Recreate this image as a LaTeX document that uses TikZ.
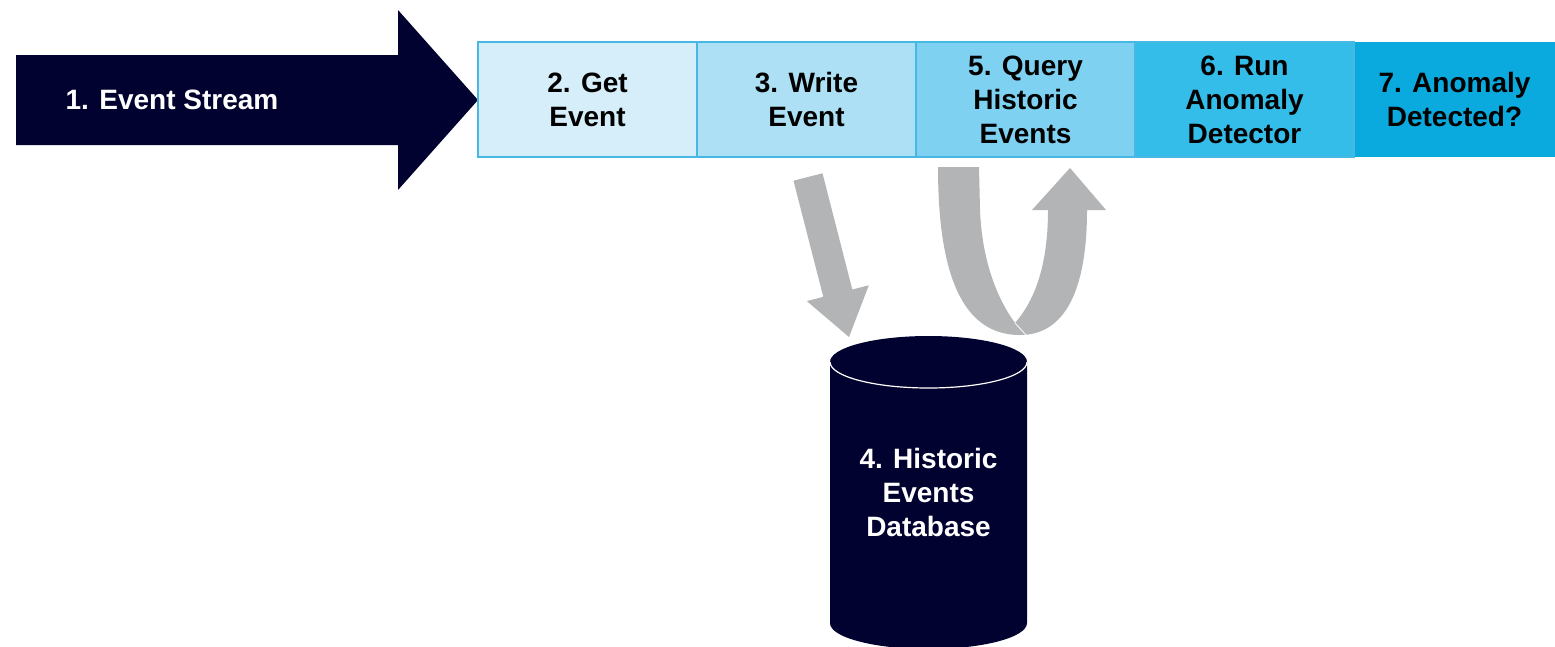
\documentclass[tikz,border=0pt]{standalone}
\usepackage{fontspec}
\setmainfont{Liberation Sans}
\definecolor{navy}{RGB}{2,2,48}
\definecolor{flowgrey}{RGB}{178,180,181}
\definecolor{edgeblue}{RGB}{70,184,226}
\definecolor{stageA}{RGB}{214,238,249}
\definecolor{stageB}{RGB}{173,224,244}
\definecolor{stageC}{RGB}{126,209,241}
\definecolor{stageD}{RGB}{52,189,233}
\definecolor{stageE}{RGB}{10,170,223}
\begin{document}
\begin{tikzpicture}[x=1pt,y=-1pt,
  label font/.style={font=\fontsize{28}{34}\selectfont\bfseries},
  stage/.style={label font, draw=edgeblue, line width=1.2pt, minimum width=219pt,
    minimum height=115pt, inner sep=0pt, align=center, text=black},
  flow/.style={fill=flowgrey}
]
% canvas
\useasboundingbox[fill=white] (0,0) rectangle (1555,646);

% incoming event stream arrow
\fill[navy] (16,55) -- (398,55) -- (398,10) -- (478,100) -- (398,190)
  -- (398,145) -- (16,145) -- cycle;
\node[label font, text=white] (stream) at (172,100) {1. Event Stream};

% processing stages
\node[stage, fill=stageA] (get)    at (587.5,99.5)  {2. Get\\Event};
\node[stage, fill=stageB] (write)  at (806.5,99.5)  {3. Write\\Event};
\node[stage, fill=stageC] (query)  at (1025.5,99.5) {5. Query\\Historic\\Events};
\node[stage, fill=stageE, draw=none, minimum width=201pt] (detected) at (1454.5,99.5) {7. Anomaly\\Detected?};
\node[stage, fill=stageD] (run)    at (1244.5,99.5) {6. Run\\Anomaly\\Detector};

% database cylinder
\fill[navy] (830,362) -- (830,623)
  arc[start angle=180, end angle=0, x radius=98.5, y radius=26]
  -- (1027,362)
  arc[start angle=0, end angle=-180, x radius=98.5, y radius=26] -- cycle;
\draw[white, line width=1.2pt] (830,362)
  arc[start angle=180, end angle=0, x radius=98.5, y radius=26];
\node[label font, text=white, align=center] (db) at (928.5,492) {4. Historic\\Events\\Database};

% write flow into the database
\fill[flow] (793.5,180.7) -- (822.5,173.3) -- (852.3,289.5) -- (868.8,285.3)
  -- (849,337) -- (806.8,301.1) -- (823.3,296.9) -- cycle;

% query flow: down to the database and back up
\fill[flow] (938,167) .. controls (938,280) and (965,335) .. (1020,335)
  .. controls (1065,335) and (1087,290) .. (1087,210)
  -- (1106,210) -- (1070,168) -- (1032,210) -- (1048,210)
  .. controls (1048,265) and (1035,300) .. (1015,323)
  .. controls (998,300) and (982,262) .. (980,210) -- (979,167) -- cycle;
\draw[white, line width=0.8pt] (1015,323) -- (1026,335);
\end{tikzpicture}
\end{document}
